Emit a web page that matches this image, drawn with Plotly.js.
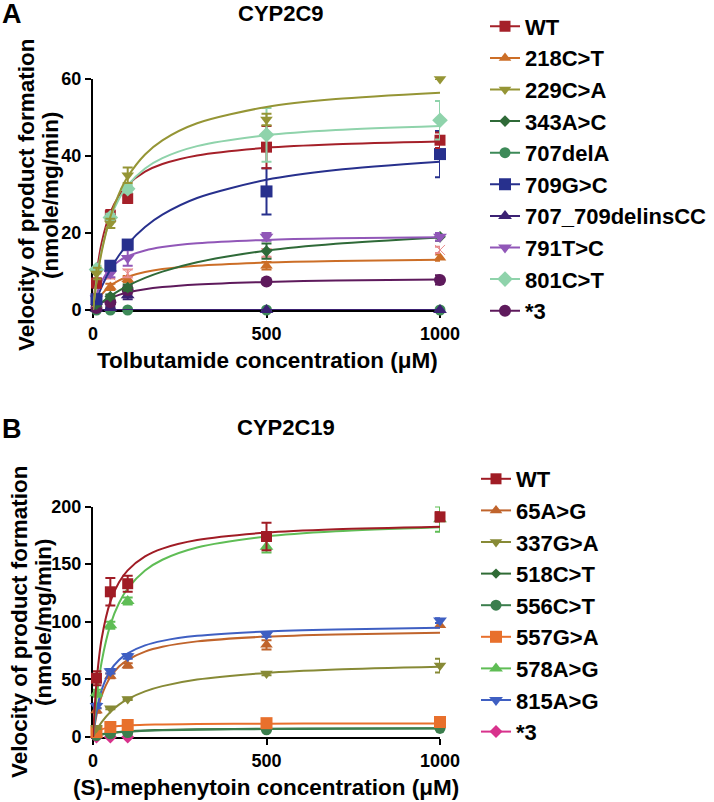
<!DOCTYPE html>
<html>
<head>
<meta charset="utf-8">
<script src="https://cdn.plot.ly/plotly-3.0.1.min.js"></script>
<style>html,body{margin:0;padding:0;background:#fff;}#chart{width:714px;height:802px;}</style>
</head>
<body>
<div id="chart"></div>
<script>
// ---------- DATA ----------
// Panel A: CYP2C9, tolbutamide
const concA = [10, 50, 100, 500, 1000];
const namesA = ["WT", "218C>T", "229C>A", "343A>C", "707delA", "709G>C", "707_709delinsCC", "791T>C", "801C>T", "*3"];
const wtA      = [7, 24.5, 29, 42.3, 44.1];      const wtAErr      = [1.2, 1.5, 1.2, 5.5, 2];
const c218A    = [2, 6, 8, 11.5, 13.6];          const c218AErr    = [0.5, 0.8, 0.8, 1, 0.8];
const c229A    = [9.5, 22.5, 35, 49.5, 60];      const c229AErr    = [1.5, 1.2, 2, 1.5, 0];
const c343A    = [1.5, 3.5, 5.8, 15.3, 19];      const c343AErr    = [0.5, 0.5, 0.8, 2, 1];
const c707delA = [0, 0, 0, 0, 0];                const c707delAErr = [0, 0, 0, 0, 0];
const c709A    = [2.8, 11.5, 17, 30.8, 40.5];    const c709AErr    = [0.5, 1, 1.2, 6, 6];
const c707ins  = [0.3, 0.5, 3.8, 0, 0];          const c707insErr  = [0.3, 0.3, 1, 0, 0];
const c791A    = [3, 9.5, 13.5, 19, 19];         const c791AErr    = [0.5, 1, 2, 1, 1];
const c801A    = [10.5, 24, 31.5, 45.5, 49.3];   const c801AErr    = [1, 1, 1, 7, 5];
const star3A   = [0.5, 2, 5.2, 7.4, 7.8];        const star3AErr   = [0.3, 0.5, 1, 0.5, 1.2];
const extraA   = [2, 9, 9.5, 14.8, 15.6];        const extraAErr   = [0.5, 0.8, 1, 1, 0.8];

// fitted curves
const xFit = [0, 10, 25, 50, 75, 100, 150, 200, 300, 500, 700, 1000];
const wtAFit    = [0, 9.1, 17.5, 25.28, 29.67, 32.5, 35.92, 37.92, 40.15, 42.13, 43.04, 43.75];
const c218AFit  = [0, 1.97, 4.06, 6.27, 7.67, 8.63, 9.86, 10.62, 11.5, 12.32, 12.71, 13.02];
const c229AFit  = [0, 7.1, 15.1, 24.18, 30.25, 34.59, 40.38, 44.07, 48.5, 52.74, 54.79, 56.44];
const c343AFit  = [0, 0.82, 1.95, 3.61, 5.04, 6.29, 8.34, 9.98, 12.41, 15.41, 17.2, 18.83];
const c707delAFit = [0, 0, 0, 0, 0, 0, 0, 0, 0, 0, 0, 0];
const c709AFit  = [0, 2.61, 6.01, 10.59, 14.21, 17.13, 21.56, 24.76, 29.09, 33.81, 36.34, 38.5];
const c707insFit = [0, 0, 0, 0, 0, 0, 0, 0, 0, 0, 0, 0];
const c791AFit  = [0, 3.86, 7.46, 10.82, 12.74, 13.97, 15.47, 16.35, 17.33, 18.21, 18.61, 18.92];
const c801AFit  = [0, 7.65, 15.59, 23.82, 28.91, 32.37, 36.77, 39.45, 42.56, 45.41, 46.76, 47.82];
const star3AFit = [0, 0.87, 1.89, 3.09, 3.93, 4.55, 5.4, 5.95, 6.63, 7.3, 7.63, 7.9];

// Panel B: CYP2C19, (S)-mephenytoin
const concB = [10, 50, 100, 500, 1000];
const concB3 = [10, 50, 100];
const namesB = ["WT", "65A>G", "337G>A", "518C>T", "556C>T", "557G>A", "578A>G", "815A>G", "*3"];
const wtB    = [51, 126, 133, 174, 191];      const wtBErr    = [6, 12, 7, 12, 4];
const c65B   = [23, 53, 62, 80, 97];          const c65BErr   = [2, 2, 2, 4, 2];
const c337B  = [8, 25, 33, 55, 62];           const c337BErr  = [1, 1, 1, 1.5, 6];
const c518B  = [1, 3, 4, 6.5, 7.2];           const c518BErr  = [0.5, 0.5, 0.5, 0.5, 0.5];
const c556B  = [1.2, 2.8, 3.8, 6.3, 7.5];     const c556BErr  = [0.5, 0.5, 0.5, 0.5, 0.5];
const c557B  = [4.3, 8.7, 10.4, 12, 13];      const c557BErr  = [0.5, 0.5, 0.5, 0.5, 0.5];
const c578B  = [38, 97, 118, 165, 189];       const c578BErr  = [3, 3, 3, 5, 11];
const c815B  = [27, 57, 70, 89, 101];         const c815BErr  = [2, 2, 2, 2, 2];
const star3B = [0, 0, 0];                     const star3BErr = [0, 0, 0];

const wtBFit   = [0, 47, 85.45, 117.5, 134.29, 144.62, 156.67, 163.48, 170.91, 177.36, 180.27, 182.52];
const c65BFit  = [0, 18.62, 35.9, 51.99, 61.12, 67, 74.13, 78.3, 82.97, 87.13, 89.04, 90.52];
const c337BFit = [0, 5.85, 12.94, 21.71, 28.04, 32.83, 39.59, 44.13, 49.85, 55.62, 58.52, 60.9];
const c518BFit = [0, 1.14, 2.35, 3.64, 4.44, 5, 5.71, 6.15, 6.67, 7.14, 7.37, 7.55];
const c556BFit = [0, 0.98, 2.05, 3.25, 4.03, 4.59, 5.32, 5.78, 6.32, 6.84, 7.09, 7.29];
const c557BFit = [0, 4, 6.67, 8.57, 9.47, 10, 10.59, 10.91, 11.25, 11.54, 11.67, 11.76];
const c578BFit = [0, 32.88, 65.31, 97.3, 116.28, 128.85, 144.47, 153.79, 164.4, 174, 178.46, 181.97];
const c815BFit = [0, 21.78, 40.83, 57.65, 66.82, 72.59, 79.46, 83.4, 87.76, 91.59, 93.33, 94.69];

const ticksA = [0, 20, 40, 60];
const ticksB = [0, 50, 100, 150, 200];
const ticksX = [0, 500, 1000];

// ---------- STYLE ----------
const W = 714, H = 802;
const FONT = "Liberation Sans, Arial, Helvetica, sans-serif";
const px = v => v / W;
const py = v => 1 - v / H;

const traces = [];
function addSeries(panel, name, xs, ys, errs, fitY, color, symbol, size, legendName) {
  const xa = panel === "A" ? "x" : "x2";
  const ya = panel === "A" ? "y" : "y2";
  if (fitY) {
    traces.push({x: xFit, y: fitY, xaxis: xa, yaxis: ya, mode: "lines", line: {color: color, width: 2, shape: "spline", smoothing: 0.8},
      showlegend: false, hoverinfo: "skip", cliponaxis: false});
  }
  traces.push({x: xs, y: ys, xaxis: xa, yaxis: ya, mode: "markers", name: name, showlegend: false,
    marker: {symbol: symbol, size: size, color: color, line: {width: 0}},
    error_y: {type: "data", array: errs, visible: true, color: color, thickness: 2, width: 5},
    cliponaxis: false});
  if (legendName) {
    traces.push({x: [null], y: [null], xaxis: xa, yaxis: ya, mode: "lines+markers", name: name, legend: legendName,
      line: {color: color, width: 2}, marker: {symbol: symbol, size: Math.min(size, 12), color: color}});
  }
}

// Panel A (draw order roughly back-to-front)
addSeries("A", namesA[4], concA, c707delA, c707delAErr, c707delAFit, "#3d8a58", "circle", 11, "legend");
addSeries("A", namesA[6], concA, c707ins, c707insErr, c707insFit, "#3b2173", "triangle-up", 12, "legend");
addSeries("A", namesA[9], concA, star3A, star3AErr, star3AFit, "#5e1a5c", "circle", 12, "legend");
addSeries("A", namesA[1], concA, c218A, c218AErr, c218AFit, "#cc6e27", "triangle-up", 11, "legend");
addSeries("A", "", concA, extraA, extraAErr, null, "#e88c8c", "x-thin-open", 10, null);
addSeries("A", namesA[3], concA, c343A, c343AErr, c343AFit, "#2f6a38", "diamond", 9, "legend");
addSeries("A", namesA[7], concA, c791A, c791AErr, c791AFit, "#9157b8", "triangle-down", 12, "legend");
addSeries("A", namesA[5], concA, c709A, c709AErr, c709AFit, "#27308d", "square", 12, "legend");
addSeries("A", namesA[0], concA, wtA, wtAErr, wtAFit, "#a52029", "square", 11, "legend");
addSeries("A", namesA[8], concA, c801A, c801AErr, c801AFit, "#8fd3ab", "diamond", 12, "legend");
addSeries("A", namesA[2], concA, c229A, c229AErr, c229AFit, "#959535", "triangle-down", 11, "legend");

// Panel B
addSeries("B", namesB[8], concB3, star3B, star3BErr, null, "#d8328c", "diamond", 10, "legend2");
addSeries("B", namesB[3], concB, c518B, c518BErr, c518BFit, "#2f6b35", "diamond", 8, "legend2");
addSeries("B", namesB[4], concB, c556B, c556BErr, c556BFit, "#3b7e4d", "circle", 11, "legend2");
addSeries("B", namesB[5], concB, c557B, c557BErr, c557BFit, "#e8702c", "square", 12, "legend2");
addSeries("B", namesB[2], concB, c337B, c337BErr, c337BFit, "#878a36", "triangle-down", 11, "legend2");
addSeries("B", namesB[1], concB, c65B, c65BErr, c65BFit, "#c0642c", "triangle-up", 11, "legend2");
addSeries("B", namesB[7], concB, c815B, c815BErr, c815BFit, "#3f5fc2", "triangle-down", 12, "legend2");
addSeries("B", namesB[6], concB, c578B, c578BErr, c578BFit, "#5fbd55", "triangle-up", 12, "legend2");
addSeries("B", namesB[0], concB, wtB, wtBErr, wtBFit, "#a01c25", "square", 11, "legend2");

// reorder legend entries to match the reference order
traces.forEach(t => {
  if (t.legend === "legend") t.legendrank = namesA.indexOf(t.name);
  if (t.legend === "legend2") t.legendrank = namesB.indexOf(t.name);
});

const tickFont = {family: FONT, size: 18, color: "#000", weight: "bold"};
function xAxis(anchor) {
  return {domain: [px(93), px(440)], range: [0, 1000], tickvals: ticksX, ticktext: ticksX.map(String),
    ticks: "outside", ticklen: 6, tickwidth: 2, tickcolor: "#000", showline: true, linewidth: 2, linecolor: "#000",
    showgrid: false, zeroline: false, tickfont: tickFont, anchor: anchor, fixedrange: true, layer: "below traces"};
}
function yAxis(domain, range, ticks, anchor) {
  return {domain: domain, range: range, tickvals: ticks, ticktext: ticks.map(String),
    ticks: "outside", ticklen: 6, tickwidth: 2, tickcolor: "#000", showline: true, linewidth: 2, linecolor: "#000",
    showgrid: false, zeroline: false, tickfont: tickFont, anchor: anchor, fixedrange: true, layer: "below traces"};
}

const ann = (text, x, y, size, angle) => ({text: text, xref: "paper", yref: "paper", x: px(x), y: py(y),
  xanchor: "center", yanchor: "middle", showarrow: false, textangle: angle || 0,
  font: {family: FONT, size: size, color: "#000", weight: "bold"}});

const legendFont = {family: FONT, size: 22, color: "#000", weight: "bold"};
const layout = {
  width: W, height: H, margin: {l: 0, r: 0, t: 0, b: 0},
  paper_bgcolor: "#fff", plot_bgcolor: "#fff",
  showlegend: true,
  xaxis: xAxis("y"),
  yaxis: yAxis([py(310), py(79)], [0, 60], ticksA, "x"),
  xaxis2: xAxis("y2"),
  yaxis2: yAxis([py(737), py(506.5)], [0, 200], ticksB, "x2"),
  legend: {x: px(485), y: py(5.5), xanchor: "left", yanchor: "top", bgcolor: "rgba(0,0,0,0)",
    font: legendFont, itemwidth: 30, traceorder: "normal"},
  legend2: {x: px(476), y: py(458), xanchor: "left", yanchor: "top", bgcolor: "rgba(0,0,0,0)",
    font: legendFont, itemwidth: 30, traceorder: "normal"},
  annotations: [
    ann("A", 12, 14, 27),
    ann("CYP2C9", 281, 13, 22),
    ann("Velocity of product formation", 26, 195, 22.5, -90),
    ann("(nmole/mg/min)", 50, 195, 22.5, -90),
    ann("Tolbutamide concentration (\u03bcM)", 267, 360, 22.5),
    ann("B", 12, 429, 27),
    ann("CYP2C19", 286, 427, 22),
    ann("Velocity of product formation", 19, 622, 22.5, -90),
    ann("(nmole/mg/min)", 43, 622, 22.5, -90),
    ann("(S)-mephenytoin concentration (\u03bcM)", 266, 787, 22.5)
  ]
};

Plotly.newPlot("chart", traces, layout, {staticPlot: true, displayModeBar: false});
</script>
</body>
</html>
